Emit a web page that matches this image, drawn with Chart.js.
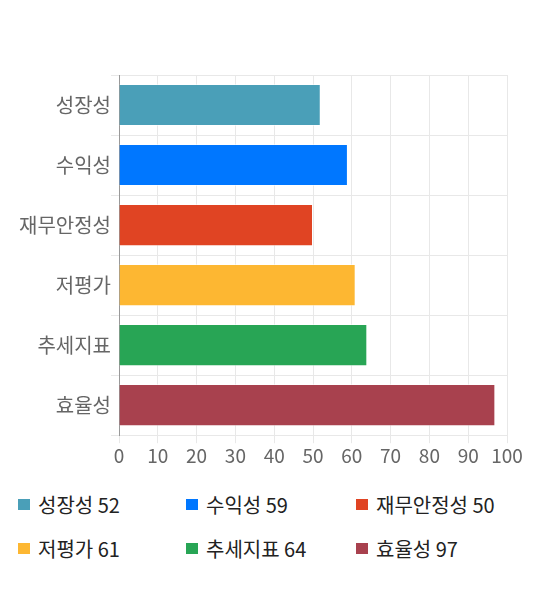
<!DOCTYPE html>
<html><head><meta charset="utf-8">
<script src="https://cdn.jsdelivr.net/npm/chart.js@4/dist/chart.umd.min.js"></script>
<style>
body{margin:0;background:#fff;font-family:"Noto Sans CJK KR","Noto Sans",sans-serif;}
#wrap{position:relative;width:540px;height:470px;}
#legend{display:grid;grid-template-columns:168px 170px 190px;padding-left:18px;row-gap:20px;margin-top:22px;}
.item{display:flex;align-items:center;font-size:20px;color:#222;height:24px;white-space:nowrap;}
.sw{width:12px;height:11px;margin-right:8px;flex:none;}
</style></head>
<body>
<div id="wrap"><canvas id="c"></canvas></div>
<div id="legend"></div>
<script>
const categories = ["성장성","수익성","재무안정성","저평가","추세지표","효율성"];
const values = [52,59,50,61,64,97];
const colors = ["#4a9fb8","#0077ff","#e04423","#fdb732","#28a555","#a8414e"];
const xTicks = [0,10,20,30,40,50,60,70,80,90,100];

const lg = document.getElementById('legend');
categories.forEach((c,i)=>{
  const d=document.createElement('div');d.className='item';
  d.innerHTML='<span class="sw" style="background:'+colors[i]+'"></span><span>'+c+' '+values[i]+'</span>';
  lg.appendChild(d);
});

const FF='"Noto Sans CJK KR","Noto Sans",sans-serif';
new Chart(document.getElementById('c'),{
  type:'bar',
  data:{labels:categories,datasets:[{data:values,backgroundColor:colors,borderColor:'rgba(255,255,255,0.5)',borderWidth:1,barPercentage:0.78,categoryPercentage:0.9}]},
  options:{
    indexAxis:'y',responsive:true,maintainAspectRatio:false,animation:false,
    layout:{padding:{top:75,right:33,left:0,bottom:2}},
    plugins:{legend:{display:false},tooltip:{enabled:false}},
    scales:{
      x:{min:0,max:100,afterBuildTicks:(s)=>{s.ticks=xTicks.map(v=>({value:v}));},
        grid:{color:'#e8e8e8',tickLength:8},border:{color:'#e8e8e8'},
        ticks:{color:'#666',font:{size:19,family:FF},padding:1}},
      y:{afterFit:(s)=>{s.width=119;},
        grid:{color:'#e8e8e8',tickLength:8},border:{color:'#999'},
        ticks:{color:'#666',font:{size:20,family:FF},padding:0}}
    }
  }
});
</script>
</body></html>
